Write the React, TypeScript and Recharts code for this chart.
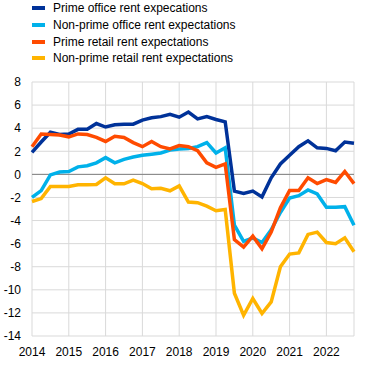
import { LineChart, Line, XAxis, YAxis, CartesianGrid, ReferenceLine } from "recharts";

const years = ["2014", "2015", "2016", "2017", "2018", "2019", "2020", "2021", "2022"];
const quarters = years.flatMap((y) => ["Q1", "Q2", "Q3", "Q4"].map((q) => `${y}${q}`));
const yearTicks = years.map((y) => `${y}Q1`);
const yTicks = [-14, -12, -10, -8, -6, -4, -2, 0, 2, 4, 6, 8];

const primeOffice = [
  1.9, 2.8, 3.65, 3.45, 3.5, 3.9, 3.9, 4.4, 4.1, 4.3, 4.35, 4.35, 4.7, 4.9, 5.0, 5.2, 4.95, 5.4,
  4.8, 5.0, 4.75, 4.55, -1.45, -1.65, -1.45, -1.95, -0.3, 0.9, 1.65, 2.4, 2.9, 2.3, 2.25, 2.05, 2.8, 2.7,
];
const nonPrimeOffice = [
  -2.0, -1.4, -0.05, 0.2, 0.25, 0.65, 0.75, 1.0, 1.45, 1.0, 1.3, 1.5, 1.65, 1.75, 1.85, 2.1, 2.2, 2.25,
  2.4, 2.75, 1.85, 2.3, -4.4, -5.8, -5.5, -5.9, -4.8, -3.3, -2.05, -1.85, -1.35, -1.7, -2.85, -2.85, -2.8, -4.4,
];
const primeRetail = [
  2.4, 3.5, 3.45, 3.4, 3.25, 3.5, 3.45, 3.2, 2.85, 3.3, 3.2, 2.75, 2.4, 2.85, 2.4, 2.2, 2.5, 2.4,
  2.05, 1.0, 0.6, 0.9, -5.65, -6.3, -5.35, -6.45, -5.0, -2.9, -1.4, -1.4, -0.3, -0.8, -0.45, -0.7, 0.25, -0.8,
];
const nonPrimeRetail = [
  -2.35, -2.1, -1.05, -1.05, -1.05, -0.9, -0.9, -0.88, -0.3, -0.82, -0.82, -0.5, -0.8, -1.25, -1.2, -1.42, -1.0, -2.4,
  -2.45, -2.75, -3.15, -3.05, -10.3, -12.2, -10.75, -12.05, -11.05, -8.0, -6.9, -6.8, -5.2, -5.0, -5.9, -6.0, -5.5, -6.7,
];

const series = [
  { key: "primeOffice", name: "Prime office rent expecations", color: "#003299" },
  { key: "nonPrimeOffice", name: "Non-prime office rent expectations", color: "#00b1ea" },
  { key: "primeRetail", name: "Prime retail rent expectations", color: "#ff4b00" },
  { key: "nonPrimeRetail", name: "Non-prime retail rent expectations", color: "#ffb400" },
];

const data = quarters.map((q, i) => ({
  quarter: q,
  primeOffice: primeOffice[i],
  nonPrimeOffice: nonPrimeOffice[i],
  primeRetail: primeRetail[i],
  nonPrimeRetail: nonPrimeRetail[i],
}));

const font = "'Liberation Sans', Arial, sans-serif";

export default function App() {
  return (
    <div style={{ position: "absolute", left: 0, top: 0, width: 372, height: 378, fontFamily: font }}>
      <div style={{ position: "absolute", left: 32, top: 0 }}>
        {series.map((s) => (
          <div key={s.key} style={{ display: "flex", alignItems: "center", height: 16.7 }}>
            <div style={{ width: 13, height: 4, backgroundColor: s.color }} />
            <span style={{ marginLeft: 8, fontSize: 12, color: "#000", whiteSpace: "nowrap" }}>{s.name}</span>
          </div>
        ))}
      </div>
      <LineChart width={372} height={378} data={data} margin={{ top: 82, right: 18, bottom: 0, left: 0 }}>
        <CartesianGrid stroke="#d9d9d9" strokeWidth={1} />
        <XAxis
          dataKey="quarter"
          ticks={yearTicks}
          interval={0}
          tickFormatter={(q: string) => q.slice(0, 4)}
          axisLine={false}
          tickLine={false}
          tickSize={0}
          tickMargin={11}
          height={42}
          tick={{ fontSize: 12, fill: "#000", fontFamily: font }}
        />
        <YAxis
          domain={[-14, 8]}
          ticks={yTicks}
          interval={0}
          axisLine={false}
          tickLine={false}
          tickSize={0}
          tickMargin={11}
          width={32}
          tick={{ fontSize: 12, fill: "#000", fontFamily: font }}
        />
        <ReferenceLine y={0} stroke="#808080" strokeWidth={1} />
        {series.map((s) => (
          <Line
            key={s.key}
            type="linear"
            dataKey={s.key}
            name={s.name}
            stroke={s.color}
            strokeWidth={3.5}
            dot={false}
            activeDot={false}
            isAnimationActive={false}
          />
        ))}
      </LineChart>
    </div>
  );
}
